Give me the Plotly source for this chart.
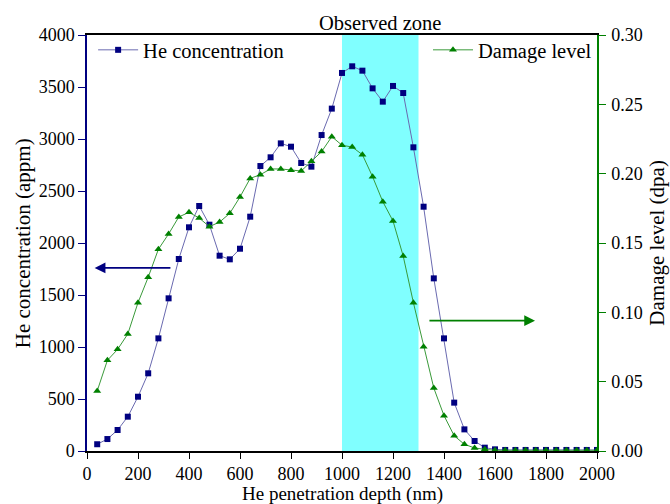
import plotly.graph_objects as go

depth = [40 * i for i in range(1, 51)]  # 40 ... 2000 nm

he_conc = [65, 115, 202, 330, 522, 747, 1083, 1468, 1846, 2151,
           2356, 2176, 1878, 1843, 1945, 2253, 2740, 2824, 2958, 2926,
           2769, 2734, 3038, 3292, 3635, 3699, 3657, 3487, 3359, 3510,
           3442, 2920, 2349, 1660, 1083, 465, 208, 96, 32, 16,
           10, 10, 10, 10, 10, 10, 10, 10, 10, 10]

damage = [0.0433, 0.0654, 0.0733, 0.0844, 0.1070, 0.1253, 0.1455, 0.1565, 0.1688, 0.1721,
          0.1680, 0.1618, 0.1651, 0.1714, 0.1832, 0.1966, 0.1993, 0.2034, 0.2034, 0.2024,
          0.2019, 0.2089, 0.2159, 0.2267, 0.2205, 0.2192, 0.2137, 0.1978, 0.1798, 0.1659,
          0.1406, 0.1070, 0.0752, 0.0454, 0.0255, 0.0110, 0.0048, 0.0022, 0.0012, 0.0005,
          0.0005, 0.0005, 0.0005, 0.0005, 0.0005, 0.0005, 0.0005, 0.0005, 0.0005, 0.0005]

zone = [1000, 1300]
x_ticks = list(range(0, 2001, 200))
y1_ticks = list(range(0, 4001, 500))
y2_ticks = [0.0, 0.05, 0.10, 0.15, 0.20, 0.25, 0.30]

FONT = "Liberation Serif, Times New Roman, serif"
NAVY = "#000080"
GREEN = "#008000"


def fnt(size):
    return dict(family=FONT, size=size, color="black")


fig = go.Figure()

fig.add_trace(go.Scatter(
    x=depth, y=he_conc, name="He concentration", mode="lines+markers",
    line=dict(color="#6a6ab0", width=1),
    marker=dict(symbol="square", size=6, color=NAVY),
    legend="legend", yaxis="y"))

fig.add_trace(go.Scatter(
    x=depth, y=damage, name="Damage level", mode="lines+markers",
    line=dict(color="#3a9a3a", width=1),
    marker=dict(symbol="triangle-up", size=7, color=GREEN),
    legend="legend2", yaxis="y2"))

fig.add_vrect(x0=zone[0], x1=zone[1], fillcolor="#80ffff", opacity=1,
              line_width=0, layer="below")

fig.add_annotation(text="Observed zone", x=(zone[0] + zone[1]) / 2, xref="x",
                   y=1.0, yref="paper", yanchor="bottom", yshift=-1,
                   showarrow=False, font=fnt(20.5))

# Axis titles as annotations for exact placement
fig.add_annotation(text="He penetration depth (nm)", x=0.5, xref="paper",
                   y=-0.0755, yref="paper", yanchor="top", showarrow=False,
                   borderpad=0, font=fnt(19))
fig.add_annotation(text="He concentration (appm)", x=-0.125, xref="paper", xanchor="center",
                   y=0.5, yref="paper", textangle=-90, showarrow=False, font=fnt(21))
fig.add_annotation(text="Damage level (dpa)", x=1.117, xref="paper", xanchor="center",
                   y=0.5, yref="paper", textangle=-90, showarrow=False, font=fnt(21))

# Left arrow (He concentration -> left axis)
fig.add_annotation(x=30, y=1760, xref="x", yref="y", ax=333, ay=1760,
                   axref="x", ayref="y", text="", showarrow=True,
                   arrowhead=2, arrowsize=1.2, arrowwidth=1.8, arrowcolor=NAVY)
# Right arrow (Damage level -> right axis)
fig.add_annotation(x=1757, y=0.094, xref="x", yref="y2", ax=1337, ay=0.094,
                   axref="x", ayref="y2", text="", showarrow=True,
                   arrowhead=2, arrowsize=1.2, arrowwidth=1.8, arrowcolor=GREEN)

fig.update_layout(
    template="none",
    width=670, height=504,
    margin=dict(l=87, r=73, t=35, b=53, autoexpand=False),
    paper_bgcolor="white", plot_bgcolor="white",
    font=fnt(18),
    xaxis=dict(range=[0, 2000], tickvals=x_ticks, ticks="outside", ticklen=6,
               tickcolor="black", showline=True, linecolor="black", linewidth=1.5,
               mirror=True, showgrid=False, zeroline=False, automargin=False,
               tickfont=fnt(18)),
    yaxis=dict(range=[0, 4000], tickvals=y1_ticks, ticks="outside", ticklen=7,
               tickcolor=NAVY, showline=True, linecolor=NAVY, linewidth=1.5,
               showgrid=False, zeroline=False, automargin=False,
               tickfont=fnt(18)),
    yaxis2=dict(range=[0, 0.30], tickvals=y2_ticks, ticktext=[f"{v:.2f}" for v in y2_ticks],
                overlaying="y", side="right", ticks="outside", ticklen=7,
                tickcolor=GREEN, showline=True, linecolor=GREEN, linewidth=1.5,
                showgrid=False, zeroline=False, automargin=False,
                ticklabelstandoff=2, tickfont=fnt(18)),
    legend=dict(x=0.012, y=1.012, xanchor="left", yanchor="top", bgcolor="rgba(0,0,0,0)",
                font=fnt(20.5), itemwidth=40),
    legend2=dict(x=1.0, y=1.012, xanchor="right", yanchor="top", bgcolor="rgba(0,0,0,0)",
                 font=fnt(20.5), itemwidth=40),
    showlegend=True,
)

fig.write_html("out.html")
